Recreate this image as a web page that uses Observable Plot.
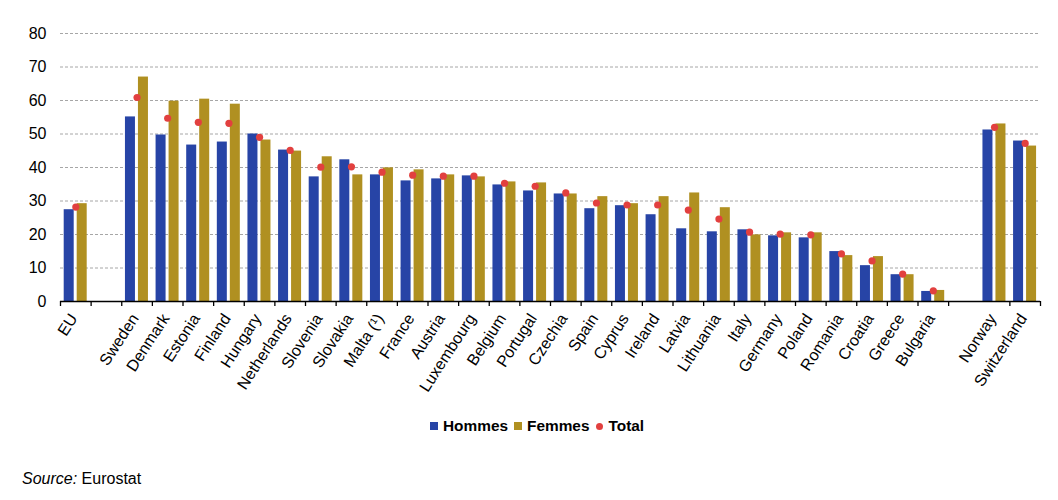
<!DOCTYPE html>
<html>
<head>
<meta charset="utf-8">
<script src="https://cdn.jsdelivr.net/npm/d3@7"></script>
<script src="https://cdn.jsdelivr.net/npm/@observablehq/plot@0.6"></script>
<style>
  body { margin: 0; background: #fff; font-family: "Liberation Sans", Arial, sans-serif; }
  #wrap { position: relative; width: 1058px; height: 500px; }
  #legend { position: absolute; top: 417px; left: 430px; display: flex; align-items: center; font-weight: bold; font-size: 15.4px; color: #000; white-space: nowrap; }
  #legend .sw { display: inline-block; width: 8px; height: 8px; margin-right: 5px; }
  #legend .dt { display: inline-block; width: 7px; height: 7px; border-radius: 50%; margin-right: 5.5px; margin-left: 0.5px; }
  #legend .it { margin-right: 6px; display: flex; align-items: center; }
  #source { position: absolute; top: 470px; left: 22px; font-size: 16px; color: #000; }
</style>
</head>
<body>
<div id="wrap">
  <div id="chart"></div>
  <div id="legend"></div>
  <div id="source"><i>Source:</i> Eurostat</div>
</div>
<script>
const countries = ["EU", "Sweden", "Denmark", "Estonia", "Finland", "Hungary", "Netherlands", "Slovenia", "Slovakia", "Malta (\u00b9)", "France", "Austria", "Luxembourg", "Belgium", "Portugal", "Czechia", "Spain", "Cyprus", "Ireland", "Latvia", "Lithuania", "Italy", "Germany", "Poland", "Romania", "Croatia", "Greece", "Bulgaria", "Norway", "Switzerland"];
const hommes = [27.4, 55.1, 49.7, 46.7, 47.6, 50.0, 45.2, 37.2, 42.3, 37.8, 36.0, 36.6, 37.5, 34.8, 33.0, 32.1, 27.7, 28.6, 25.9, 21.7, 20.8, 21.4, 19.6, 19.0, 14.9, 10.7, 8.0, 3.0, 51.2, 47.9];
const femmes = [29.2, 67.0, 59.8, 60.4, 58.9, 48.2, 44.9, 43.2, 37.8, 39.9, 39.3, 37.8, 37.2, 35.7, 35.4, 32.1, 31.3, 29.2, 31.3, 32.4, 28.0, 19.9, 20.5, 20.5, 13.7, 13.4, 8.0, 3.3, 53.0, 46.4];
const total  = [28.2, 60.9, 54.7, 53.5, 53.2, 49.0, 45.1, 40.1, 40.2, 38.6, 37.7, 37.4, 37.4, 35.3, 34.4, 32.4, 29.4, 28.8, 28.8, 27.3, 24.6, 20.7, 20.1, 19.9, 14.2, 12.1, 8.2, 3.2, 52.0, 47.2];
const yTicks = [0, 10, 20, 30, 40, 50, 60, 70, 80];
const seriesNames = ["Hommes", "Femmes", "Total"];
const colors = ["#2744a6", "#b09021", "#e2403f"];

// Category domain with empty spacer slots after EU and before Norway
const gap1 = "\u200b", gap2 = "\u200b\u200b";
const domain = [countries[0], gap1, ...countries.slice(1, 28), gap2, ...countries.slice(28)];

const data = countries.map((c, i) => ({country: c, h: hommes[i], f: femmes[i], t: total[i]}));

const W = 1058, H = 400, ml = 60, mr = 18;
const step = (W - ml - mr) / domain.length;
// boundary tick marks (none between the gap and Norway, as in the source)
const tickCats = domain.filter(d => d !== "Norway");

const chart = Plot.plot({
  width: W,
  height: H,
  marginLeft: ml,
  marginRight: mr,
  marginTop: 33,
  marginBottom: 99,
  style: {fontFamily: "Liberation Sans, Arial, sans-serif", fontSize: "16px", color: "#000", background: "#fff"},
  x: {domain, padding: 0, round: false, label: null},
  y: {domain: [0, 80], label: null},
  marks: [
    Plot.gridY(yTicks, {stroke: "#a6a6a6", strokeOpacity: 1, strokeDasharray: "3,2", strokeWidth: 1}),
    Plot.axisY(yTicks, {tickSize: 0, tickPadding: 14, fontSize: 16, label: null}),
    Plot.barY(data, {x: "country", y: "h", fill: colors[0], insetLeft: 3.7, insetRight: step - 13.7}),
    Plot.barY(data, {x: "country", y: "f", fill: colors[1], insetLeft: 16.7, insetRight: step - 26.7}),
    Plot.dot(data, {x: "country", y: "t", r: 3.6, fill: colors[2], stroke: null}),
    Plot.ruleY([0], {stroke: "#000", strokeWidth: 1.3}),
    Plot.ruleX(tickCats, {x: d => d, y1: 0, y2: 0, insetBottom: -5, dx: -step / 2, stroke: "#000", strokeWidth: 1.3}),
    Plot.ruleX([domain[domain.length - 1]], {x: d => d, y1: 0, y2: 0, insetBottom: -5, dx: step / 2, stroke: "#000", strokeWidth: 1.3}),
    Plot.axisX({tickSize: 0, tickRotate: -57, tickPadding: 14, fontSize: 16, label: null, dx: -2})
  ]
});
document.getElementById("chart").appendChild(chart);

const legend = document.getElementById("legend");
seriesNames.forEach((name, i) => {
  const it = document.createElement("span");
  it.className = "it";
  const sw = document.createElement("span");
  sw.className = i === 2 ? "dt" : "sw";
  sw.style.background = colors[i];
  it.appendChild(sw);
  it.appendChild(document.createTextNode(name));
  legend.appendChild(it);
});
</script>
</body>
</html>
